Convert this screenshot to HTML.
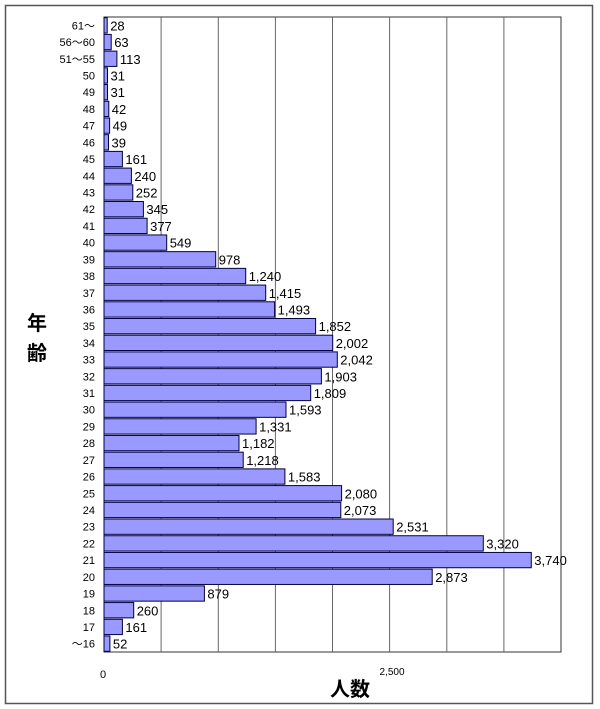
<!DOCTYPE html><html><head><meta charset="utf-8"><style>body{margin:0;background:#fff}svg{display:block}</style></head><body>
<svg width="600" height="709" xmlns="http://www.w3.org/2000/svg" font-family="Liberation Sans, Noto Sans CJK JP, sans-serif">
<rect x="5.5" y="5.5" width="587" height="698" fill="#fff" stroke="#555" stroke-width="1.5"/>
<rect x="104" y="17" width="457" height="635" fill="#fff" stroke="#333"/>
<g stroke="#666">
<line x1="161.1" y1="17" x2="161.1" y2="652"/><line x1="218.3" y1="17" x2="218.3" y2="652"/><line x1="275.4" y1="17" x2="275.4" y2="652"/><line x1="332.5" y1="17" x2="332.5" y2="652"/><line x1="389.6" y1="17" x2="389.6" y2="652"/><line x1="446.8" y1="17" x2="446.8" y2="652"/><line x1="503.9" y1="17" x2="503.9" y2="652"/>
</g>
<defs><style>.b{fill:#9999ff;stroke:#000040;stroke-width:1}.v{font-size:13px}.l{font-size:11px;text-anchor:end}</style></defs>
<g transform="translate(104,17)"><rect class="b" x="0" y="0.7" width="3.2" height="15.3"/><text class="v" x="6.2" y="13.4">28</text><text class="l" x="-9" y="12.4">61～</text></g>
<g transform="translate(104,33.71)"><rect class="b" x="0" y="0.7" width="7.2" height="15.3"/><text class="v" x="10.2" y="13.4">63</text><text class="l" x="-9" y="12.4">56～60</text></g>
<g transform="translate(104,50.42)"><rect class="b" x="0" y="0.7" width="12.9" height="15.3"/><text class="v" x="15.9" y="13.4">113</text><text class="l" x="-9" y="12.4">51～55</text></g>
<g transform="translate(104,67.13)"><rect class="b" x="0" y="0.7" width="3.5" height="15.3"/><text class="v" x="6.5" y="13.4">31</text><text class="l" x="-9" y="12.4">50</text></g>
<g transform="translate(104,83.84)"><rect class="b" x="0" y="0.7" width="3.5" height="15.3"/><text class="v" x="6.5" y="13.4">31</text><text class="l" x="-9" y="12.4">49</text></g>
<g transform="translate(104,100.55)"><rect class="b" x="0" y="0.7" width="4.8" height="15.3"/><text class="v" x="7.8" y="13.4">42</text><text class="l" x="-9" y="12.4">48</text></g>
<g transform="translate(104,117.26)"><rect class="b" x="0" y="0.7" width="5.6" height="15.3"/><text class="v" x="8.6" y="13.4">49</text><text class="l" x="-9" y="12.4">47</text></g>
<g transform="translate(104,133.97)"><rect class="b" x="0" y="0.7" width="4.5" height="15.3"/><text class="v" x="7.5" y="13.4">39</text><text class="l" x="-9" y="12.4">46</text></g>
<g transform="translate(104,150.68)"><rect class="b" x="0" y="0.7" width="18.4" height="15.3"/><text class="v" x="21.4" y="13.4">161</text><text class="l" x="-9" y="12.4">45</text></g>
<g transform="translate(104,167.39)"><rect class="b" x="0" y="0.7" width="27.4" height="15.3"/><text class="v" x="30.4" y="13.4">240</text><text class="l" x="-9" y="12.4">44</text></g>
<g transform="translate(104,184.11)"><rect class="b" x="0" y="0.7" width="28.8" height="15.3"/><text class="v" x="31.8" y="13.4">252</text><text class="l" x="-9" y="12.4">43</text></g>
<g transform="translate(104,200.82)"><rect class="b" x="0" y="0.7" width="39.4" height="15.3"/><text class="v" x="42.4" y="13.4">345</text><text class="l" x="-9" y="12.4">42</text></g>
<g transform="translate(104,217.53)"><rect class="b" x="0" y="0.7" width="43.1" height="15.3"/><text class="v" x="46.1" y="13.4">377</text><text class="l" x="-9" y="12.4">41</text></g>
<g transform="translate(104,234.24)"><rect class="b" x="0" y="0.7" width="62.7" height="15.3"/><text class="v" x="65.7" y="13.4">549</text><text class="l" x="-9" y="12.4">40</text></g>
<g transform="translate(104,250.95)"><rect class="b" x="0" y="0.7" width="111.7" height="15.3"/><text class="v" x="114.7" y="13.4">978</text><text class="l" x="-9" y="12.4">39</text></g>
<g transform="translate(104,267.66)"><rect class="b" x="0" y="0.7" width="141.7" height="15.3"/><text class="v" x="144.7" y="13.4">1,240</text><text class="l" x="-9" y="12.4">38</text></g>
<g transform="translate(104,284.37)"><rect class="b" x="0" y="0.7" width="161.7" height="15.3"/><text class="v" x="164.7" y="13.4">1,415</text><text class="l" x="-9" y="12.4">37</text></g>
<g transform="translate(104,301.08)"><rect class="b" x="0" y="0.7" width="170.6" height="15.3"/><text class="v" x="173.6" y="13.4">1,493</text><text class="l" x="-9" y="12.4">36</text></g>
<g transform="translate(104,317.79)"><rect class="b" x="0" y="0.7" width="211.6" height="15.3"/><text class="v" x="214.6" y="13.4">1,852</text><text class="l" x="-9" y="12.4">35</text></g>
<g transform="translate(104,334.5)"><rect class="b" x="0" y="0.7" width="228.7" height="15.3"/><text class="v" x="231.7" y="13.4">2,002</text><text class="l" x="-9" y="12.4">34</text></g>
<g transform="translate(104,351.21)"><rect class="b" x="0" y="0.7" width="233.3" height="15.3"/><text class="v" x="236.3" y="13.4">2,042</text><text class="l" x="-9" y="12.4">33</text></g>
<g transform="translate(104,367.92)"><rect class="b" x="0" y="0.7" width="217.4" height="15.3"/><text class="v" x="220.4" y="13.4">1,903</text><text class="l" x="-9" y="12.4">32</text></g>
<g transform="translate(104,384.63)"><rect class="b" x="0" y="0.7" width="206.7" height="15.3"/><text class="v" x="209.7" y="13.4">1,809</text><text class="l" x="-9" y="12.4">31</text></g>
<g transform="translate(104,401.34)"><rect class="b" x="0" y="0.7" width="182.0" height="15.3"/><text class="v" x="185" y="13.4">1,593</text><text class="l" x="-9" y="12.4">30</text></g>
<g transform="translate(104,418.05)"><rect class="b" x="0" y="0.7" width="152.1" height="15.3"/><text class="v" x="155.1" y="13.4">1,331</text><text class="l" x="-9" y="12.4">29</text></g>
<g transform="translate(104,434.76)"><rect class="b" x="0" y="0.7" width="135.0" height="15.3"/><text class="v" x="138" y="13.4">1,182</text><text class="l" x="-9" y="12.4">28</text></g>
<g transform="translate(104,451.47)"><rect class="b" x="0" y="0.7" width="139.2" height="15.3"/><text class="v" x="142.2" y="13.4">1,218</text><text class="l" x="-9" y="12.4">27</text></g>
<g transform="translate(104,468.18)"><rect class="b" x="0" y="0.7" width="180.9" height="15.3"/><text class="v" x="183.9" y="13.4">1,583</text><text class="l" x="-9" y="12.4">26</text></g>
<g transform="translate(104,484.89)"><rect class="b" x="0" y="0.7" width="237.6" height="15.3"/><text class="v" x="240.6" y="13.4">2,080</text><text class="l" x="-9" y="12.4">25</text></g>
<g transform="translate(104,501.61)"><rect class="b" x="0" y="0.7" width="236.8" height="15.3"/><text class="v" x="239.8" y="13.4">2,073</text><text class="l" x="-9" y="12.4">24</text></g>
<g transform="translate(104,518.32)"><rect class="b" x="0" y="0.7" width="289.2" height="15.3"/><text class="v" x="292.2" y="13.4">2,531</text><text class="l" x="-9" y="12.4">23</text></g>
<g transform="translate(104,535.03)"><rect class="b" x="0" y="0.7" width="379.3" height="15.3"/><text class="v" x="382.3" y="13.4">3,320</text><text class="l" x="-9" y="12.4">22</text></g>
<g transform="translate(104,551.74)"><rect class="b" x="0" y="0.7" width="427.3" height="15.3"/><text class="v" x="430.3" y="13.4">3,740</text><text class="l" x="-9" y="12.4">21</text></g>
<g transform="translate(104,568.45)"><rect class="b" x="0" y="0.7" width="328.2" height="15.3"/><text class="v" x="331.2" y="13.4">2,873</text><text class="l" x="-9" y="12.4">20</text></g>
<g transform="translate(104,585.16)"><rect class="b" x="0" y="0.7" width="100.4" height="15.3"/><text class="v" x="103.4" y="13.4">879</text><text class="l" x="-9" y="12.4">19</text></g>
<g transform="translate(104,601.87)"><rect class="b" x="0" y="0.7" width="29.7" height="15.3"/><text class="v" x="32.7" y="13.4">260</text><text class="l" x="-9" y="12.4">18</text></g>
<g transform="translate(104,618.58)"><rect class="b" x="0" y="0.7" width="18.4" height="15.3"/><text class="v" x="21.4" y="13.4">161</text><text class="l" x="-9" y="12.4">17</text></g>
<g transform="translate(104,635.29)"><rect class="b" x="0" y="0.7" width="5.9" height="15.3"/><text class="v" x="8.9" y="13.4">52</text><text class="l" x="-9" y="12.4">～16</text></g>
<text x="103" y="678" font-size="11" text-anchor="middle">0</text>
<text x="392" y="675" font-size="10" text-anchor="middle">2,500</text>
<text x="350" y="696" font-size="20" font-weight="bold" text-anchor="middle">人数</text>
<text x="37" y="330" font-size="20" font-weight="bold" text-anchor="middle">年</text>
<text x="37" y="360" font-size="20" font-weight="bold" text-anchor="middle">齢</text>
</svg>
</body></html>
